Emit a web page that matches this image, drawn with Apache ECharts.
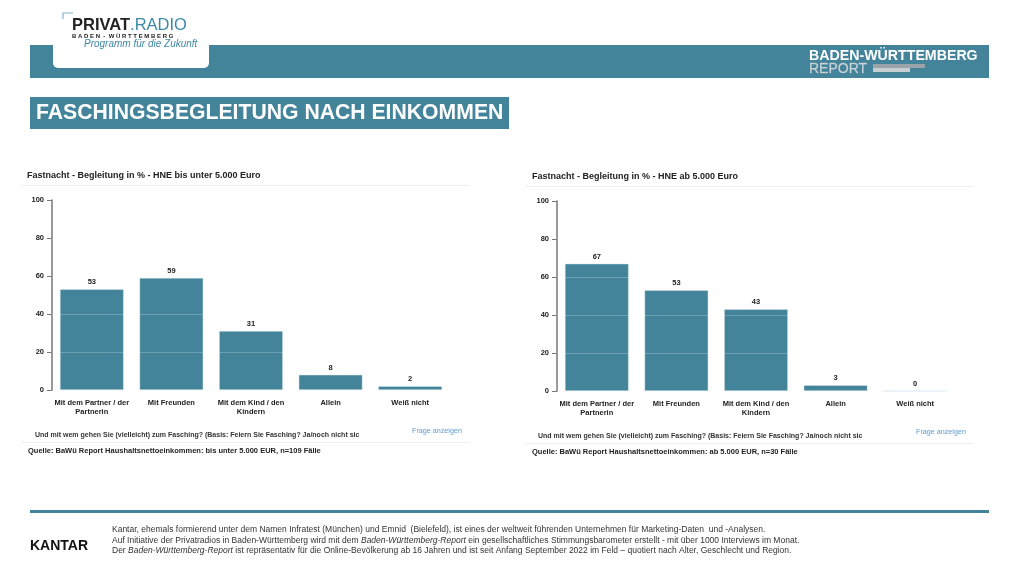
<!DOCTYPE html>
<html><head><meta charset="utf-8">
<script src="https://cdn.jsdelivr.net/npm/echarts@6/dist/echarts.min.js"></script>
<style>html,body{margin:0;padding:0;background:#fff}#c{width:1019px;height:573px}</style>
</head><body><div id="c"></div>
<script>
const categories = ['Mit dem Partner / der\nPartnerin', 'Mit Freunden', 'Mit dem Kind / den\nKindern', 'Allein', 'Weiß nicht'];
const valuesLow = [53, 59, 31, 8, 2];
const valuesHigh = [67, 53, 43, 3, 0];
const yTicks = [0, 20, 40, 60, 80, 100];
const titleLow = 'Fastnacht - Begleitung in % - HNE bis unter 5.000 Euro';
const titleHigh = 'Fastnacht - Begleitung in % - HNE ab 5.000 Euro';
const sourceLow = 'Quelle: BaWü Report Haushaltsnettoeinkommen: bis unter 5.000 EUR, n=109 Fälle';
const sourceHigh = 'Quelle: BaWü Report Haushaltsnettoeinkommen: ab 5.000 EUR, n=30 Fälle';
const question = 'Und mit wem gehen Sie (vielleicht) zum Fasching? (Basis: Feiern Sie Fasching? Ja/noch nicht sic';

const TEAL = '#43849b';
const FONT = '"Liberation Sans", Arial, sans-serif';
const chart = echarts.init(document.getElementById('c'));

function txt(x, y, text, size, opts) {
  return Object.assign({type: 'text', x: x, y: y, style: Object.assign({text: text, font: (opts && opts.font) || ((opts && opts.weight ? opts.weight + ' ' : '') + size + 'px ' + FONT), fill: (opts && opts.fill) || '#222', textVerticalAlign: 'middle', textAlign: (opts && opts.align) || 'left'}, opts && opts.style)}, opts && opts.extra);
}

function xAxis(idx) {
  return {type: 'category', gridIndex: idx, data: categories,
    axisLine: {show: false}, axisTick: {show: false},
    axisLabel: {interval: 0, color: '#222', fontSize: 7.5, fontWeight: 'bold', fontFamily: FONT, lineHeight: 9, margin: 8}};
}
function yAxis(idx) {
  return {type: 'value', gridIndex: idx, min: 0, max: 100, interval: 20,
    axisLine: {show: true, lineStyle: {color: '#777', width: 1.5}},
    axisTick: {show: true, length: 5, lineStyle: {color: '#777'}},
    axisLabel: {color: '#222', fontSize: 7.5, fontWeight: 'bold', fontFamily: FONT, margin: 8},
    splitLine: {show: false}};
}
function barSeries(idx, data) {
  return {type: 'bar', xAxisIndex: idx, yAxisIndex: idx, data: data, barCategoryGap: '20%',
    itemStyle: {color: TEAL, borderColor: '#d6e6ec', borderWidth: 0.5},
    label: {show: true, position: 'top', distance: 3, color: '#222', fontSize: 7.5, fontWeight: 'bold', fontFamily: FONT},
    markLine: {silent: true, symbol: 'none', label: {show: false},
      lineStyle: {color: 'rgba(255,255,255,0.22)', type: 'solid', width: 1},
      data: yTicks.filter(v => v > 0 && v < 100).map(v => ({yAxis: v}))}};
}

const rich2 = {n: {font: '8.5px ' + FONT, fill: '#333'}, i: {font: 'italic 8.5px ' + FONT, fill: '#333'}};

const graphic = [
  // header bar
  {type: 'rect', shape: {x: 30, y: 45, width: 959, height: 33}, style: {fill: TEAL}},
  {type: 'rect', shape: {x: 53, y: -10, width: 156, height: 78, r: [0, 0, 5, 5]}, style: {fill: '#fff'}},
  {type: 'polyline', shape: {points: [[63, 19], [63, 13], [73, 13]]}, style: {stroke: '#7fb3c6', lineWidth: 1.2, fill: null}},
  {type: 'text', x: 72, y: 25, style: {rich: {a: {font: 'bold 16.5px ' + FONT, fill: '#222'}, b: {font: '16.5px ' + FONT, fill: '#3e88a5'}}, text: '{a|PRIVAT}{b|.RADIO}', textVerticalAlign: 'middle'}},
  txt(72, 36, 'B A D E N  -  W Ü R T T E M B E R G', 6, {weight: 'bold'}),
  txt(84, 44, 'Programm für die Zukunft', 10, {font: 'italic 10px ' + FONT, fill: '#3e88a5'}),
  txt(809, 56, 'BADEN-WÜRTTEMBERG', 14.2, {weight: 'bold', fill: '#fff'}),
  txt(809, 69, 'REPORT', 14, {fill: '#c9d3d8', style: {stroke: '#aab7bd', lineWidth: 0.3}}),
  {type: 'rect', shape: {x: 873, y: 64, width: 52, height: 4}, style: {fill: '#9aa3a7'}},
  {type: 'rect', shape: {x: 873, y: 68, width: 37, height: 4}, style: {fill: '#c8cfd2'}},
  // title box
  {type: 'rect', shape: {x: 30, y: 97, width: 479, height: 32}, style: {fill: TEAL}},
  txt(36, 113.5, 'FASCHINGSBEGLEITUNG NACH EINKOMMEN', 21.2, {weight: 'bold', fill: '#fff'}),
  // left chart texts
  txt(27, 176, titleLow, 9, {weight: 'bold'}),
  {type: 'line', shape: {x1: 22, y1: 185.5, x2: 470, y2: 185.5}, style: {stroke: '#eeeeee', lineWidth: 1}},
  txt(35, 435, question, 7, {weight: 'bold', fill: '#333'}),
  txt(412, 431, 'Frage anzeigen', 7.2, {fill: '#5b9bd5'}),
  {type: 'line', shape: {x1: 22, y1: 442.5, x2: 470, y2: 442.5}, style: {stroke: '#eeeeee', lineWidth: 1}},
  txt(28, 451, sourceLow, 7.5, {weight: 'bold'}),
  // right chart texts
  txt(532, 177, titleHigh, 9, {weight: 'bold'}),
  {type: 'line', shape: {x1: 526, y1: 186.5, x2: 973, y2: 186.5}, style: {stroke: '#eeeeee', lineWidth: 1}},
  txt(538, 436, question, 7, {weight: 'bold', fill: '#333'}),
  txt(916, 432, 'Frage anzeigen', 7.2, {fill: '#5b9bd5'}),
  {type: 'line', shape: {x1: 526, y1: 443.5, x2: 973, y2: 443.5}, style: {stroke: '#eeeeee', lineWidth: 1}},
  txt(532, 452, sourceHigh, 7.5, {weight: 'bold'}),
  // footer
  {type: 'rect', shape: {x: 30, y: 510, width: 959, height: 3}, style: {fill: TEAL}},
  txt(30, 546, 'KANTAR', 14, {weight: 'bold', fill: '#111'}),
  txt(112, 530, 'Kantar, ehemals formierend unter dem Namen Infratest (München) und Emnid  (Bielefeld), ist eines der weltweit führenden Unternehmen für Marketing-Daten  und -Analysen.', 8.5, {fill: '#333'}),
  {type: 'text', x: 112, y: 541, style: {textVerticalAlign: 'middle', rich: rich2, text: '{n|Auf Initiative der Privatradios in Baden-Württemberg wird mit dem }{i|Baden-Württemberg-Report}{n| ein gesellschaftliches Stimmungsbarometer erstellt - mit über 1000 Interviews im Monat.}'}},
  {type: 'text', x: 112, y: 551, style: {textVerticalAlign: 'middle', rich: rich2, text: '{n|Der }{i|Baden-Württemberg-Report}{n| ist repräsentativ für die Online-Bevölkerung ab 16 Jahren und ist seit Anfang September 2022 im Feld – quotiert nach Alter, Geschlecht und Region.}'}}
];

chart.setOption({
  animation: false,
  grid: [
    {left: 52, top: 200, width: 398, height: 190},
    {left: 557, top: 201, width: 398, height: 190}
  ],
  xAxis: [xAxis(0), xAxis(1)],
  yAxis: [yAxis(0), yAxis(1)],
  series: [barSeries(0, valuesLow), barSeries(1, valuesHigh)],
  graphic: graphic
});
</script></body></html>
